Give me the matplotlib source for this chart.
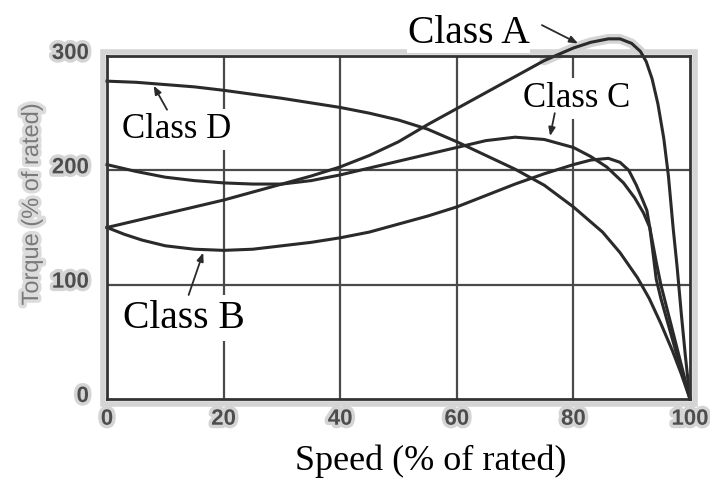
import matplotlib
matplotlib.use("Agg")
import matplotlib.pyplot as plt
import matplotlib.patheffects as pe
import matplotlib.transforms as mtransforms
from matplotlib.patches import Rectangle
import numpy as np

# Torque-speed characteristics of NEMA design classes (torque in % of rated)
speed_a = [0, 5, 10, 15, 20, 25, 30, 35, 40, 45, 50, 55, 60, 65, 70, 75, 80, 83, 86,
           88, 90, 91.5, 92.5, 93.5, 94.5, 95.5, 96.3, 97.1, 97.8, 98.5, 99.2, 100]
torque_a = [150, 156, 162, 168, 174, 181, 188, 195, 203, 213, 225, 240, 254, 268, 282,
            296, 307, 312, 315, 315, 311, 304, 295, 280, 258, 228, 195, 150, 115, 75, 38, 0]

speed_b = [0, 3, 6, 10, 15, 20, 25, 30, 35, 40, 45, 50, 55, 60, 65, 70, 75, 80, 83, 86,
           88, 89.5, 90.8, 91.8, 92.6, 93.1, 93.6, 94.2, 95, 96, 97, 98, 99, 100]
torque_b = [150, 144, 139, 134, 131, 130, 131, 134, 137, 141, 146, 153, 160, 168, 178,
            188, 197, 205, 209, 210.5, 207, 200, 187, 175, 165, 150, 130, 105, 88, 70,
            52, 34, 17, 0]

speed_c = [0, 5, 10, 15, 20, 25, 30, 35, 40, 45, 50, 55, 60, 65, 70, 75, 80, 83, 85.7,
           88.6, 90.5, 92, 93.1, 94.2, 95, 96, 97, 98, 99, 100]
torque_c = [205, 199, 194, 191, 189, 188, 188, 191, 196, 202, 208, 214, 220, 226, 229,
            227, 220, 212, 203, 189, 176, 163, 150, 120, 100, 80, 60, 40, 20, 0]

speed_d = [0, 5, 10, 15, 20, 25, 30, 35, 40, 45, 50, 55, 60, 65, 70, 75, 80, 85, 88,
           91, 93, 95, 97, 98.5, 100]
torque_d = [278, 277, 275, 273, 270, 266.5, 263, 259, 255, 250, 244, 236, 225, 213, 201,
            187, 168, 146, 128, 106, 88, 66, 42, 22, 0]

x_ticks = [0, 20, 40, 60, 80, 100]
y_ticks = [0, 100, 200, 300]

curve_color = "#2a2a2a"
grid_color = "#4a4a4a"
tick_color = "#4d4d4d"
halo = "#d4d4d4"
serif = ["Liberation Serif", "DejaVu Serif"]
sans = ["Liberation Sans", "DejaVu Sans"]

fig = plt.figure(figsize=(7.1, 4.79), dpi=100)
ax = fig.add_axes([107 / 710, 1 - 399 / 479, 583 / 710, 343 / 479])
ax.set_xlim(0, 100)
ax.set_ylim(0, 300)

# grid
for gx in x_ticks[1:-1]:
    ax.axvline(gx, color=grid_color, lw=1.6, zorder=1)
for gy in y_ticks[1:-1]:
    ax.axhline(gy, color=grid_color, lw=1.6, zorder=1)

# frame with a soft grey outline outside it
for sp in ax.spines.values():
    sp.set_color("#333333")
    sp.set_linewidth(2.0)
    sp.set_zorder(4)
dx, dy = 4.5 / 583, 4.5 / 343
ax.add_patch(Rectangle((-dx, -dy), 1 + 2 * dx, 1 + 2 * dy, transform=ax.transAxes,
                       fill=False, edgecolor=halo, lw=4.0, clip_on=False, zorder=0.5))

# halo along the part of class A that rises above the frame
sa = np.array(speed_a)
ta = np.array(torque_a)
above = ta >= 296
ax.plot(sa[above], ta[above], color=halo, lw=7, solid_capstyle="round",
        clip_on=False, zorder=0.6)

for s, t in [(speed_a, torque_a), (speed_b, torque_b), (speed_c, torque_c),
             (speed_d, torque_d)]:
    ax.plot(s, t, color=curve_color, lw=2.2, clip_on=False, zorder=3,
            solid_joinstyle="round")

# ticks
ax.set_xticks(x_ticks)
ax.set_yticks(y_ticks)
ax.tick_params(length=0, pad=7)
ax.tick_params(axis="y", pad=13)
stroke = [pe.withStroke(linewidth=5, foreground=halo)]
for lab in ax.get_xticklabels() + ax.get_yticklabels():
    lab.set_fontfamily(sans)
    lab.set_fontsize(16)
    lab.set_fontweight("bold")
    lab.set_color(tick_color)
    lab.set_path_effects(stroke)
lift = mtransforms.ScaledTranslation(0, 0.05, fig.dpi_scale_trans)
for lab in ax.get_yticklabels():
    lab.set_transform(lab.get_transform() + lift)

fig.text(32 / 710, 1 - 204 / 479, "Torque (% of rated)", rotation=90, ha="center",
         va="center", fontsize=17, family=sans, color="#7a7a7a",
         path_effects=[pe.withStroke(linewidth=5, foreground="#dcdcdc")])
fig.text(431 / 710, 1 - 470 / 479, "Speed (% of rated)", ha="center", va="baseline",
         fontsize=26, family=serif, color="black")

# class labels with leader arrows
box = dict(facecolor="white", edgecolor="none", pad=3)
labels = [
    ("Class A", 51.6, 311.5, 28.5, 0.5),
    ("Class B", 2.7, 62.5, 28.5, 3),
    ("Class C", 71.4, 255.5, 25, 3),
    ("Class D", 2.6, 228.5, 25, 3),
]
for text, tx, ty, size, pad in labels:
    ax.text(tx, ty, text, ha="left", va="baseline", fontsize=size, family=serif,
            color="black", zorder=2.5, clip_on=False,
            bbox=dict(facecolor="white", edgecolor="none", pad=pad))

arrows = [
    ((74.6, 327), (80.8, 311)),
    ((14.0, 91), (16.5, 128)),
    ((76.8, 250), (76.0, 230)),
    ((10.3, 253), (8.0, 274)),
]
for tail, head in arrows:
    ax.annotate("", xy=head, xytext=tail, annotation_clip=False,
                arrowprops=dict(arrowstyle="-|>,head_length=0.5,head_width=0.2",
                                color="#2a2a2a", lw=1.3, shrinkA=0, shrinkB=0),
                zorder=3)

fig.savefig("out.png", dpi=100)
